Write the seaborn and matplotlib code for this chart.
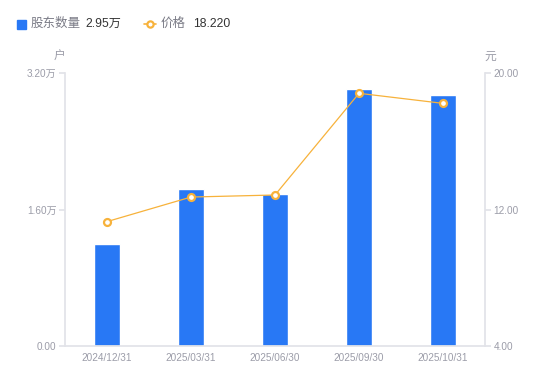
import numpy as np
import pandas as pd
import matplotlib
matplotlib.use("Agg")
import matplotlib.pyplot as plt
from matplotlib.patches import Rectangle
from matplotlib.lines import Line2D
import seaborn as sns

# data
dates = ["2024/12/31", "2025/03/31", "2025/06/30", "2025/09/30", "2025/10/31"]
holders = [1.20, 1.84, 1.78, 3.01, 2.94]      # 万户
price = [11.29, 12.73, 12.85, 18.81, 18.22]   # 元
left_ticks = [0.0, 1.6, 3.2]
left_labels = ["0.00", "1.60万", "3.20万"]
right_ticks = [4.0, 12.0, 20.0]
right_labels = ["4.00", "12.00", "20.00"]

BLUE = "#2878f5"
ORANGE = "#f7b23b"
GRAY = "#9b9ca8"
AXIS = "#e2e3e8"

sns.set_theme(style="white")
plt.rcParams["font.family"] = ["Liberation Sans", "Noto Sans CJK SC", "DejaVu Sans"]

df = pd.DataFrame({"date": dates, "holders": holders, "price": price})

fig = plt.figure(figsize=(5.5, 3.81), dpi=100)
W, H = 550, 381
ax = fig.add_axes([65 / W, (H - 346) / H, (485 - 65) / W, (346 - 73) / H])

sns.barplot(data=df, x="date", y="holders", color=BLUE, width=0.3,
            saturation=1, ax=ax)
ax.set_xlim(-0.5, len(dates) - 0.5)
ax.set_ylim(0, 3.2)
ax.set_yticks(left_ticks)
ax.set_yticklabels(left_labels)
ax.set_xlabel("")
ax.set_ylabel("")

ax2 = ax.twinx()
sns.lineplot(x=np.arange(len(dates)), y=df["price"], ax=ax2, color=ORANGE,
             linewidth=0.9, marker="o", markersize=5,
             markerfacecolor="white", markeredgecolor=ORANGE,
             markeredgewidth=1.6)
ax2.set_ylim(4, 20)
ax2.set_yticks(right_ticks)
ax2.set_yticklabels(right_labels)
ax2.set_ylabel("")

for a in (ax, ax2):
    for s in a.spines.values():
        s.set_visible(False)
    a.tick_params(colors=GRAY, labelsize=7.2, length=0)

ax.spines["left"].set_visible(True)
ax.spines["bottom"].set_visible(True)
ax.spines["left"].set_color(AXIS)
ax.spines["bottom"].set_color(AXIS)
ax2.spines["right"].set_visible(True)
ax2.spines["right"].set_color(AXIS)
ax.tick_params(axis="y", length=4, color=AXIS, pad=2, labelcolor=GRAY)
ax2.tick_params(axis="y", length=4, color=AXIS, pad=2, labelcolor=GRAY)
ax.tick_params(axis="x", pad=5, labelcolor=GRAY)

# unit labels
fig.text(59 / W, 1 - 57 / H, "户", color=GRAY, fontsize=8.5, ha="center", va="center")
fig.text(490 / W, 1 - 57 / H, "元", color=GRAY, fontsize=8.5, ha="center", va="center")

# legend row
ly = 1 - 24 / H
fig.add_artist(Rectangle((17 / W, ly - 4.5 / H), 9 / W, 9 / H,
                         transform=fig.transFigure, color=BLUE))
fig.text(31 / W, ly, "股东数量", color="#7a7b86", fontsize=9, va="center")
fig.text(85 / W, ly, "2.95万", color="#333333", fontsize=8.7, va="center")
fig.add_artist(Line2D([144 / W, 156 / W], [ly, ly], transform=fig.transFigure,
                      color=ORANGE, linewidth=1.2))
fig.add_artist(Line2D([150 / W], [ly], transform=fig.transFigure, marker="o",
                      markersize=4.5, markerfacecolor="white",
                      markeredgecolor=ORANGE, markeredgewidth=1.6))
fig.text(161 / W, ly, "价格", color="#7a7b86", fontsize=9, va="center")
fig.text(193 / W, ly, "18.220", color="#333333", fontsize=8.7, va="center")

fig.savefig("out.png", dpi=100)
